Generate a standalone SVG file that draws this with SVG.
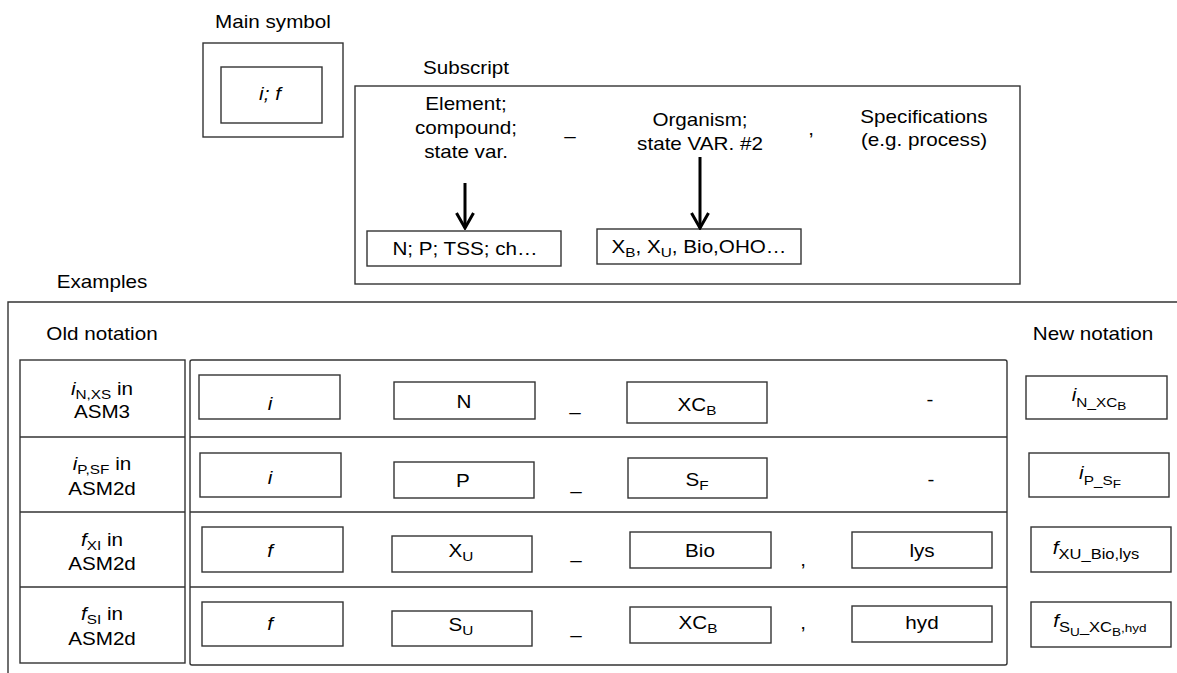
<svg xmlns="http://www.w3.org/2000/svg" width="1177" height="673" viewBox="0 0 1177 673">
<style>
text{font-family:"Liberation Sans",Arial,Helvetica,sans-serif;font-size:17.5px;fill:#000;text-anchor:middle}
.it{font-style:italic}
.sub{font-size:13px}
.sub14{font-size:14px}
.sub2{font-size:11.5px}
.box{fill:#fff;stroke:#333;stroke-width:1.4}
.ln{fill:none;stroke:#333;stroke-width:1.4}
.arrow{stroke:#000;stroke-width:3;fill:none}
</style>
<defs>
<marker id="ah" viewBox="0 0 18 20" refX="16" refY="10" markerWidth="18" markerHeight="20" markerUnits="userSpaceOnUse" orient="auto">
<path d="M1,1.5 L16,10 L1,18.5" fill="none" stroke="#000" stroke-width="3"/>
</marker>
</defs>

<g id="main-symbol">
<text transform="translate(273 28) scale(1.18 1)">Main symbol</text>
<rect class="box" x="203" y="43" width="140" height="94"/>
<rect class="box" x="221" y="67" width="101" height="56"/>
<text class="it" transform="translate(270 100) scale(1.18 1)">i; f</text>
</g>

<g id="subscript">
<text transform="translate(466 74) scale(1.18 1)">Subscript</text>
<rect class="box" x="355" y="86" width="665" height="198"/>
<text transform="translate(466 110) scale(1.18 1)"><tspan x="0" y="0">Element;</tspan><tspan x="0" y="24">compound;</tspan><tspan x="0" y="48">state var.</tspan></text>
<text transform="translate(570 142) scale(1.18 1)">–</text>
<text transform="translate(700 126) scale(1.18 1)"><tspan x="0" y="0">Organism;</tspan><tspan x="0" y="24">state VAR. #2</tspan></text>
<text transform="translate(811 135) scale(1.18 1)">,</text>
<text transform="translate(924 123) scale(1.18 1)"><tspan x="0" y="0">Specifications</tspan><tspan x="0" y="23">(e.g. process)</tspan></text>
</g>

<g id="box-element">
<rect class="box" x="367" y="231" width="194" height="35"/>
<text transform="translate(465 255) scale(1.18 1)">N; P; TSS; ch…</text>
</g>
<g id="box-organism">
<rect class="box" x="597" y="229" width="204" height="35"/>
<text transform="translate(699 253) scale(1.18 1)">X<tspan class="sub" dy="4">B</tspan><tspan dy="-4">, X</tspan><tspan class="sub" dy="4">U</tspan><tspan dy="-4">, Bio,OHO…</tspan></text>
</g>

<g id="connectors">
<line class="arrow" x1="465" y1="183" x2="465" y2="228" marker-end="url(#ah)"/>
<line class="arrow" x1="700" y1="157" x2="700" y2="228" marker-end="url(#ah)"/>
</g>

<g id="examples">
<text transform="translate(102 288) scale(1.18 1)">Examples</text>
<path class="ln" d="M8 680 V302 H1180"/>
<text transform="translate(102 340) scale(1.18 1)">Old notation</text>
<text transform="translate(1093 340) scale(1.18 1)">New notation</text>
</g>

<g id="old-notation">
<rect class="box" x="20" y="360" width="165" height="303"/>
<line class="ln" x1="20" y1="437" x2="185" y2="437"/>
<line class="ln" x1="20" y1="512" x2="185" y2="512"/>
<line class="ln" x1="20" y1="587" x2="185" y2="587"/>
<text transform="translate(102 395) scale(1.18 1)"><tspan class="it">i</tspan><tspan class="sub" dy="4">N,XS</tspan><tspan dy="-4"> in</tspan><tspan x="0" y="23">ASM3</tspan></text>
<text transform="translate(102 470) scale(1.18 1)"><tspan class="it">i</tspan><tspan class="sub" dy="4">P,SF</tspan><tspan dy="-4"> in</tspan><tspan x="0" y="25">ASM2d</tspan></text>
<text transform="translate(102 546) scale(1.18 1)"><tspan class="it">f</tspan><tspan class="sub" dy="4">XI</tspan><tspan dy="-4"> in</tspan><tspan x="0" y="24">ASM2d</tspan></text>
<text transform="translate(102 620) scale(1.18 1)"><tspan class="it">f</tspan><tspan class="sub" dy="4">SI</tspan><tspan dy="-4"> in</tspan><tspan x="0" y="25">ASM2d</tspan></text>
</g>

<g id="table">
<rect class="box" x="190" y="360" width="817" height="305" rx="2"/>
<line class="ln" x1="190" y1="437" x2="1007" y2="437"/>
<line class="ln" x1="190" y1="512" x2="1007" y2="512"/>
<line class="ln" x1="190" y1="587" x2="1007" y2="587"/>
</g>

<g id="row1">
<rect class="box" x="199" y="375" width="141" height="44"/>
<text class="it" transform="translate(270 410) scale(1.18 1)">i</text>
<rect class="box" x="394" y="382" width="141" height="37"/>
<text transform="translate(464 408) scale(1.18 1)">N</text>
<text transform="translate(575 418) scale(1.18 1)">–</text>
<rect class="box" x="627" y="382" width="140" height="41"/>
<text transform="translate(697 411) scale(1.18 1)">XC<tspan class="sub" dy="4">B</tspan></text>
<text transform="translate(930 406) scale(1.18 1)">-</text>
</g>

<g id="row2">
<rect class="box" x="200" y="453" width="141" height="44"/>
<text class="it" transform="translate(270 484) scale(1.18 1)">i</text>
<rect class="box" x="394" y="462" width="140" height="36"/>
<text transform="translate(463 487) scale(1.18 1)">P</text>
<text transform="translate(576 497) scale(1.18 1)">–</text>
<rect class="box" x="628" y="458" width="139" height="40"/>
<text transform="translate(697 486) scale(1.18 1)">S<tspan class="sub" dy="4">F</tspan></text>
<text transform="translate(931 486) scale(1.18 1)">-</text>
</g>

<g id="row3">
<rect class="box" x="202" y="527" width="141" height="45"/>
<text class="it" transform="translate(270 557) scale(1.18 1)">f</text>
<rect class="box" x="392" y="536" width="140" height="36"/>
<text transform="translate(461 557) scale(1.18 1)">X<tspan class="sub" dy="4">U</tspan></text>
<text transform="translate(576 566) scale(1.18 1)">–</text>
<rect class="box" x="630" y="532" width="141" height="36"/>
<text transform="translate(700 557) scale(1.18 1)">Bio</text>
<text transform="translate(803 566) scale(1.18 1)">,</text>
<rect class="box" x="852" y="532" width="140" height="36"/>
<text transform="translate(922 557) scale(1.18 1)">lys</text>
</g>

<g id="row4">
<rect class="box" x="202" y="602" width="141" height="44"/>
<text class="it" transform="translate(270 630) scale(1.18 1)">f</text>
<rect class="box" x="392" y="611" width="140" height="35"/>
<text transform="translate(461 631) scale(1.18 1)">S<tspan class="sub" dy="4">U</tspan></text>
<text transform="translate(576 641) scale(1.18 1)">–</text>
<rect class="box" x="630" y="607" width="141" height="36"/>
<text transform="translate(698 629) scale(1.18 1)">XC<tspan class="sub" dy="4">B</tspan></text>
<text transform="translate(803 629) scale(1.18 1)">,</text>
<rect class="box" x="852" y="606" width="140" height="36"/>
<text transform="translate(922 629) scale(1.18 1)">hyd</text>
</g>

<g id="new-notation">
<rect class="box" x="1026" y="376" width="141" height="43"/>
<text transform="translate(1099 401) scale(1.18 1)"><tspan class="it">i</tspan><tspan class="sub" dy="6">N_XC</tspan><tspan class="sub2" dy="3">B</tspan></text>
<rect class="box" x="1029" y="453" width="140" height="44"/>
<text transform="translate(1100 479) scale(1.18 1)"><tspan class="it">i</tspan><tspan class="sub" dy="6">P_S</tspan><tspan class="sub2" dy="3">F</tspan></text>
<rect class="box" x="1031" y="527" width="140" height="45"/>
<text transform="translate(1096 554) scale(1.18 1)"><tspan class="it">f</tspan><tspan class="sub14" dy="5">XU_Bio,lys</tspan></text>
<rect class="box" x="1031" y="602" width="140" height="45"/>
<text transform="translate(1100 627) scale(1.18 1)"><tspan class="it">f</tspan><tspan class="sub14" dy="5">S</tspan><tspan class="sub2" dy="4">U</tspan><tspan class="sub14" dy="-4">_XC</tspan><tspan class="sub2" dy="4">B</tspan><tspan class="sub2" dy="-4">,hyd</tspan></text>
</g>
</svg>
